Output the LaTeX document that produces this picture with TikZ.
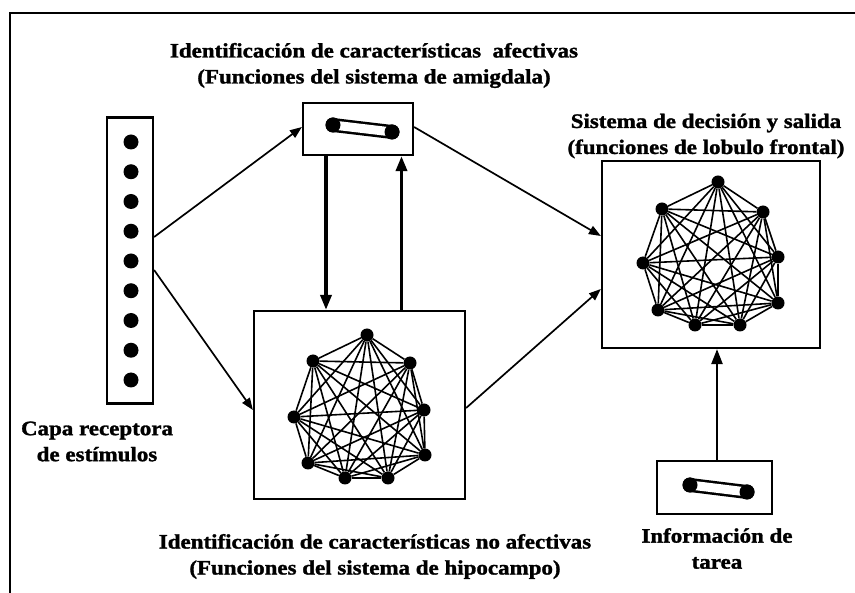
\documentclass[tikz,border=0pt]{standalone}
\usepackage{fontspec}
\setmainfont{Liberation Serif}[FakeStretch=1.12,BoldFeatures={FakeBold=1.5}]
\usetikzlibrary{arrows.meta}
\begin{document}
\begin{tikzpicture}[x=1pt,y=-1pt,
  box/.style={draw,line width=2.2pt,inner sep=0pt},
  dot/.style={circle,fill=black,inner sep=0pt,minimum size=13pt},
  sdot/.style={circle,fill=black,inner sep=0pt,minimum size=15pt},
  edge/.style={line width=1.6pt},
  arr/.style={line width=1.7pt,-{Triangle[length=12pt,width=9pt]}},
  barr/.style={line width=3.5pt,-{Triangle[length=15pt,width=11pt]}},
  lbl/.style={align=center,font=\fontsize{20.5}{26}\selectfont\bfseries}]
\useasboundingbox (0,0) rectangle (855,593);
\fill[white] (0,0) rectangle (855,593);
% frame
\draw[line width=2pt] (10,593) -- (10,13) -- (855,13);
% receptor layer
\node[box,minimum width=46pt,minimum height=286pt] (recep) at (130,260.5) {};
\foreach \i in {0,...,8} {\node[dot,minimum size=15pt] (r\i) at (131,142+29.75*\i) {};}
\node[lbl] (reclbl) at (97,441.5) {Capa receptora\\de estímulos};
% top box (amygdala)
\node[box,minimum width=110pt,minimum height=52pt] (top) at (358,129) {};
\node[sdot] (tp1) at (333,125) {};
\node[sdot] (tp2) at (392,132) {};
\draw[line width=14pt,line cap=round] (tp1.center) -- (tp2.center);
\draw[white,line width=9pt,line cap=round] (tp1.center) -- (tp2.center);
\fill (tp1) circle (7.5pt) (tp2) circle (7.5pt);
\node[lbl] (toplbl) at (374,65.5) {Identificación de características\ \ afectivas\\(Funciones del sistema de amigdala)};
% hippocampus box
\node[box,minimum width=211pt,minimum height=188pt] (hip) at (359.5,405) {};
\foreach \n/\x/\y in {1/367/335,2/313/361,3/410/363,4/294/417,5/424/410,6/308/463,7/425/455,8/345/478,9/388/478}
  {\node[dot] (h\n) at (\x,\y) {};}
\foreach \a in {1,...,8} {\pgfmathtruncatemacro{\s}{\a+1}
  \foreach \b in {\s,...,9} {\draw[edge] (h\a) -- (h\b);}}
\node[lbl] (hiplbl) at (375,556.5) {Identificación de características no afectivas\\(Funciones del sistema de hipocampo)};
% frontal box
\node[box,minimum width=218pt,minimum height=187pt] (fro) at (711,254.5) {};
\foreach \n/\x/\y in {1/718/182,2/662/209,3/763/212,4/643/263,5/778/257,6/658/310,7/778/303,8/695/325,9/740/325}
  {\node[dot] (f\n) at (\x,\y) {};}
\foreach \a in {1,...,8} {\pgfmathtruncatemacro{\s}{\a+1}
  \foreach \b in {\s,...,9} {\draw[edge] (f\a) -- (f\b);}}
\node[lbl] (frolbl) at (706,136) {Sistema de decisión y salida\\(funciones de lobulo frontal)};
% task box
\node[box,minimum width=115pt,minimum height=53pt] (task) at (714.5,487.5) {};
\node[sdot] (tk1) at (690,485) {};
\node[sdot] (tk2) at (747,492) {};
\draw[line width=14pt,line cap=round] (tk1.center) -- (tk2.center);
\draw[white,line width=9pt,line cap=round] (tk1.center) -- (tk2.center);
\fill (tk1) circle (7.5pt) (tk2) circle (7.5pt);
\node[lbl] (tasklbl) at (717,548.5) {Información de\\tarea};
% arrows
\draw[arr] ([yshift=23.5pt]recep.east) -- ([yshift=2pt]top.west);
\draw[arr] ([yshift=-9.5pt]recep.east) -- ([yshift=-5pt]hip.west);
\draw[barr] ([xshift=-32pt]top.south) -- ([xshift=-32pt]top.south |- hip.north);
\draw[barr] ([xshift=42pt]hip.north) -- ([xshift=42pt]hip.north |- top.south);
\draw[arr] ([yshift=2pt]top.east) -- ([yshift=18.5pt]fro.west);
\draw[arr] ([yshift=-3pt]hip.east) -- ([yshift=-34.5pt]fro.west);
\draw[barr,line width=2.5pt] ([xshift=2.5pt]task.north) -- ([xshift=2.5pt]task.north |- fro.south);
\end{tikzpicture}
\end{document}
